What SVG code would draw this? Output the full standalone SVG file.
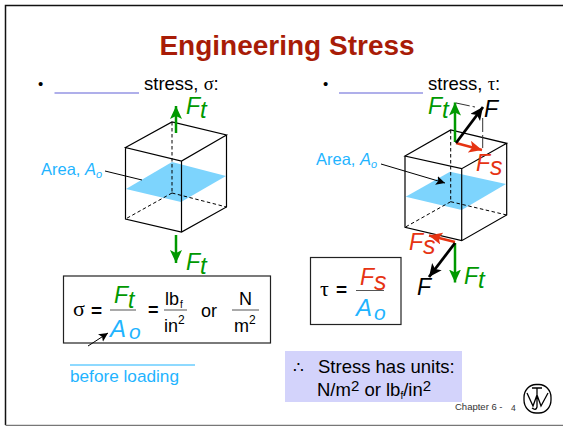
<svg xmlns="http://www.w3.org/2000/svg" width="563" height="426" viewBox="0 0 563 426">
<style>
text{font-family:"Liberation Sans",Arial,sans-serif;fill:#000}
.g{fill:#009900;font-style:italic}
.r{fill:#e63312;font-style:italic}
.b{fill:#1fb4ff}
.i{font-style:italic}
.k{fill:#000;font-style:italic}
.s{font-family:"Liberation Serif","Times New Roman",serif}
.edge{fill:none;stroke:#000;stroke-width:1.2}
.dash{fill:none;stroke:#000;stroke-width:1;stroke-dasharray:3.5 2.5}
.plane{fill:#7dd4fd}
.box{fill:#fff;stroke:#222;stroke-width:1.2}
.rule{stroke:#555;stroke-width:1;fill:none}
.blank{stroke:#6060d6;stroke-width:1.2}
</style>
<defs>
<marker id="ag" markerUnits="userSpaceOnUse" markerWidth="15" markerHeight="14" refX="13" refY="6" orient="auto"><path d="M0 0L13 6L0 12L3 6Z" fill="#009900"/></marker>
<marker id="ar" markerUnits="userSpaceOnUse" markerWidth="15" markerHeight="14" refX="13" refY="6" orient="auto"><path d="M0 0L13 6L0 12L3 6Z" fill="#e63312"/></marker>
<marker id="ak" markerUnits="userSpaceOnUse" markerWidth="15" markerHeight="14" refX="13" refY="6" orient="auto"><path d="M0 0L13 6L0 12L3 6Z" fill="#000"/></marker>
<marker id="as" markerUnits="userSpaceOnUse" markerWidth="11" markerHeight="10" refX="9" refY="4.500" orient="auto"><path d="M0 0L9 4.500L0 9L2 4.500Z" fill="#000"/></marker>
</defs>
<rect width="563" height="426" fill="#fff"/>
<path d="M563 5.500H5.500V425" fill="none" stroke="#111" stroke-width="1.500"/>
<path d="M5.500 425.500H563" fill="none" stroke="#777" stroke-width="1.500"/>
<text x="287" y="55" text-anchor="middle" font-size="28" font-weight="bold" style="fill:#a81c07">Engineering Stress</text>

<g id="left-heading">
<text x="38" y="89" font-size="15">•</text>
<line x1="54.500" y1="93" x2="139" y2="93" class="blank"/>
<text x="144" y="90" font-size="18.500">stress, <tspan class="s">σ</tspan>:</text>
</g>

<g id="left-cube">
<path class="plane" d="M126 189L172 162L226 176L181 202Z"/>
<path class="dash" d="M172 122V193M172 193L125.500 219M172 193L226.500 207"/>
<path class="edge" d="M125.500 147.500L172 122L226.500 135L181.500 161ZM181.500 161V232M125.500 147.500V219L181.500 232L226.500 207V135"/>
</g>
<g id="left-area-label">
<text x="41" y="175" font-size="16.500" class="b">Area, <tspan class="i">A</tspan><tspan class="i" font-size="11" dy="3">o</tspan></text>
</g>
<g id="left-ft-top"><text x="186" y="114" font-size="23" class="g">F<tspan font-size="24" dy="4">t</tspan></text></g>
<g id="left-ft-bottom"><text x="186" y="270" font-size="23" class="g">F<tspan font-size="24" dy="4">t</tspan></text></g>

<g id="right-heading">
<text x="323" y="89" font-size="15">•</text>
<line x1="339" y1="93" x2="423" y2="93" class="blank"/>
<text x="428" y="90" font-size="18.500">stress, <tspan class="s">τ</tspan>:</text>
</g>

<g id="right-cube">
<path class="plane" d="M405.700 196.700L450 171.700L506 184L461.700 210Z"/>
<path class="dash" d="M450.700 130V201.700M450.700 201.700L405 227.300M450.700 201.700L506.700 215"/>
<path class="edge" d="M405 156L450.700 130L506.700 143.300L461.700 168.700ZM461.700 168.700V240.700M405 156V227.300L461.700 240.700L506.700 215V143.300"/>
<path d="M456 103L475 107M482.700 118V148" fill="none" stroke="#333" stroke-width="1" stroke-dasharray="14 3"/>
</g>
<g id="right-area-label">
<text x="316" y="165" font-size="16.500" class="b">Area, <tspan class="i">A</tspan><tspan class="i" font-size="11" dy="3">o</tspan></text>
</g>
<g id="right-ft-top"><text x="428" y="114" font-size="23" class="g">F<tspan font-size="24" dy="4">t</tspan></text></g>
<g id="right-f-top"><text x="484" y="117" font-size="23" class="k">F</text></g>
<g id="right-fs-top"><text x="476" y="171" font-size="23" class="r">F<tspan font-size="25" dy="4">s</tspan></text></g>
<g id="right-fs-bottom"><text x="409" y="250" font-size="23" class="r">F<tspan font-size="25" dy="4">s</tspan></text></g>
<g id="right-f-bottom"><text x="417" y="295" font-size="23" class="k">F</text></g>
<g id="right-ft-bottom"><text x="464" y="284" font-size="23" class="g">F<tspan font-size="24" dy="4">t</tspan></text></g>

<g id="sigma-formula">
<rect class="box" x="63.500" y="276" width="207" height="67"/>
<text x="73" y="316" font-size="22" class="s">σ</text><text x="91" y="317" font-size="19" font-weight="bold">=</text>
<text x="114" y="303" font-size="23" class="g">F<tspan dy="5">t</tspan></text>
<line class="rule" x1="110" y1="310" x2="136" y2="310"/>
<text x="110" y="337" font-size="24" class="b i">A<tspan dx="3" dy="2" font-size="21">o</tspan></text>
<text x="148" y="316" font-size="18" font-weight="bold">=</text>
<text x="165" y="305" font-size="18">lb<tspan font-size="10" dy="3" dx="1">f</tspan></text>
<line class="rule" x1="164" y1="310" x2="187" y2="310"/>
<text x="164" y="332" font-size="18">in<tspan font-size="12" dy="-8">2</tspan></text>
<text x="201" y="317" font-size="18">or</text>
<text x="239" y="305" font-size="18">N</text>
<line class="rule" x1="232" y1="310" x2="259" y2="310"/>
<text x="234" y="332" font-size="18">m<tspan font-size="12" dy="-8">2</tspan></text>
</g>

<g id="before-loading">
<line x1="70" y1="365" x2="195" y2="365" stroke="#1fb4ff" stroke-width="1"/>
<text x="70" y="382" font-size="17.200" class="b">before loading</text>
</g>

<g id="tau-formula">
<rect class="box" x="310.500" y="257.500" width="90.500" height="67"/>
<text x="320" y="296" font-size="22" class="s">τ</text><text x="336" y="296" font-size="19" font-weight="bold">=</text>
<text x="360" y="285" font-size="23" class="r">F<tspan font-size="25" dy="5">s</tspan></text>
<line class="rule" x1="356" y1="290.500" x2="384" y2="290.500"/>
<text x="356" y="316" font-size="24" class="b i">A<tspan dx="2" dy="4" font-size="21">o</tspan></text>
</g>

<g id="units-note">
<rect x="285" y="351" width="177" height="51" fill="#d3d3fb"/>
<text x="293" y="373" font-size="17">∴</text>
<text x="318" y="373" font-size="18.500">Stress has units:</text>
<text x="317" y="396" font-size="18.500">N/m<tspan font-size="15" dy="-5">2</tspan><tspan dy="5"> or lb</tspan><tspan font-size="10" dy="3">f</tspan><tspan dy="-3">/in</tspan><tspan font-size="15" dy="-5">2</tspan></text>
</g>

<g id="connectors" fill="none">
<line x1="176" y1="133" x2="176" y2="106" stroke="#009900" stroke-width="2.500" marker-end="url(#ag)"/>
<line x1="176" y1="235" x2="176" y2="263" stroke="#009900" stroke-width="2.500" marker-end="url(#ag)"/>
<line x1="105" y1="171" x2="142" y2="180" stroke="#000" stroke-width="1"/>
<line x1="455" y1="142" x2="455" y2="102.500" stroke="#009900" stroke-width="2.500" marker-end="url(#ag)"/>
<line x1="456" y1="143" x2="482" y2="150" stroke="#e63312" stroke-width="2.500" marker-end="url(#ar)"/>
<line x1="456" y1="143" x2="483" y2="107" stroke="#000" stroke-width="2.800" marker-end="url(#ak)"/>
<line x1="381" y1="164" x2="445" y2="183" stroke="#000" stroke-width="1" marker-end="url(#as)"/>
<line x1="455" y1="242" x2="429" y2="235.500" stroke="#e63312" stroke-width="2.500" marker-end="url(#ar)"/>
<line x1="455" y1="243" x2="455" y2="282.500" stroke="#009900" stroke-width="2.500" marker-end="url(#ag)"/>
<line x1="455" y1="243" x2="429" y2="277" stroke="#000" stroke-width="2.800" marker-end="url(#ak)"/>
<line x1="88" y1="346" x2="108" y2="333" stroke="#000" stroke-width="1" marker-end="url(#as)"/>
</g>

<g id="footer">
<text x="455" y="410" font-size="9.500" style="fill:#333">Chapter 6 -</text>
<text x="511" y="411" font-size="8.500" style="fill:#333">4</text>
</g>
<g id="logo" fill="none" stroke="#000">
<rect x="524" y="384.500" width="27" height="28.500" rx="12" ry="13" stroke-width="1.300"/>
<path d="M527 393L533 406L537 395L541 406L548 393M532 388H542M537 388V407Q536 411 532 408" stroke-width="1.300"/>
</g>
</svg>
